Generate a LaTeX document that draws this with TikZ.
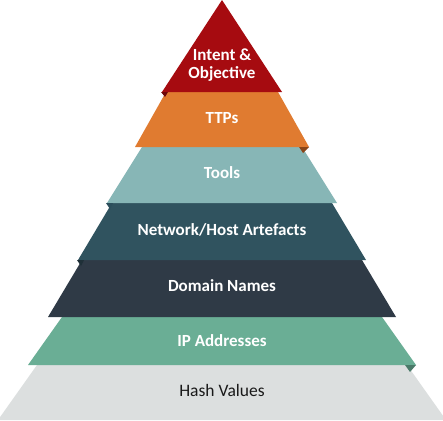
\documentclass[tikz,border=0pt]{standalone}
\usepackage{fontspec}
\setmainfont{Carlito}
\definecolor{cRed}{HTML}{A60B10}
\definecolor{cRedD}{HTML}{6E0709}
\definecolor{cOrange}{HTML}{E07B30}
\definecolor{cOrangeD}{HTML}{8A4518}
\definecolor{cTools}{HTML}{87B6B6}
\definecolor{cToolsD}{HTML}{2C4F5C}
\definecolor{cNet}{HTML}{30535F}
\definecolor{cNetD}{HTML}{1F3038}
\definecolor{cDom}{HTML}{2F3A46}
\definecolor{cIP}{HTML}{6AAE95}
\definecolor{cIPD}{HTML}{4A7A69}
\definecolor{cHash}{HTML}{DCDFDF}
\begin{document}
\begin{tikzpicture}[x=1pt,y=-1pt,
  lbl/.style={font=\fontsize{17}{18}\selectfont\bfseries, text=white, align=center, inner sep=0pt},
  dlbl/.style={font=\fontsize{17.5}{18}\selectfont, text=black!90, align=center, inner sep=0pt}]
\useasboundingbox (0,0) rectangle (443,420);
\fill[white] (0,0) rectangle (443,420);
% layers
\fill[cHash] (37,365) -- (407,365) -- (446,420) -- (-2,420) -- cycle;
\fill[cIP] (62,317) -- (382,317) -- (416,365) -- (28,365) -- cycle;
\fill[cDom] (82,260) -- (362,260) -- (396,317) -- (48,317) -- cycle;
\fill[cNet] (112,203) -- (332,203) -- (366,260) -- (78,260) -- cycle;
\fill[cTools] (142,147) -- (302,147) -- (337,203) -- (107,203) -- cycle;
\fill[cOrange] (166,92) -- (278,92) -- (309,147) -- (135,147) -- cycle;
\fill[cRed] (222,0) -- (282,92) -- (162,92) -- cycle;
% folds
\fill[cRedD] (161,92) -- (168,92) -- (165,97) -- cycle;
\fill[cOrangeD] (299,147) -- (309,147) -- (303,153) -- cycle;
\fill[cToolsD] (106,203) -- (113,203) -- (110,209) -- cycle;
\fill[cNetD] (77,260) -- (84,260) -- (81,266) -- cycle;
\fill[cIPD] (405,365) -- (416,365) -- (410,372) -- cycle;
% labels
\node[lbl] (intent) at (222,65) {Intent \&\\Objective};
\node[lbl] (ttps) at (222,118) {TTPs};
\node[lbl] (tools) at (222,173) {Tools};
\node[lbl] (net) at (222,230) {Network/Host Artefacts};
\node[lbl] (dom) at (222,286) {Domain Names};
\node[lbl] (ip) at (222,341) {IP Addresses};
\node[dlbl] (hash) at (222,390) {Hash Values};
\end{tikzpicture}
\end{document}
